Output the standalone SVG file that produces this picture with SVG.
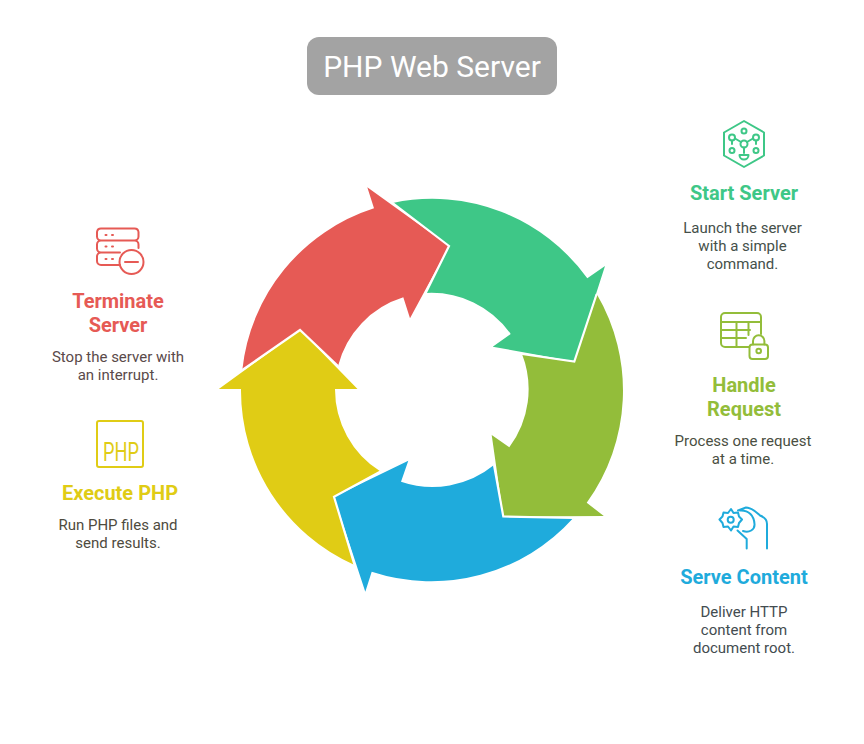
<svg xmlns="http://www.w3.org/2000/svg" width="864" height="744" viewBox="0 0 864 744">
<style>
text{font-family:Roboto,"Liberation Sans",sans-serif;text-anchor:middle}
.t{font-size:20px;font-weight:700}
.b{font-size:15px}
.sep{fill:none;stroke:#fff;stroke-width:2.200;stroke-linejoin:miter}
.i{fill:none;stroke-width:2;stroke-linecap:round;stroke-linejoin:round}
</style>
<rect width="864" height="744" fill="#fff"/>
<g id="title"><rect x="307" y="37" width="250" height="58" rx="12" fill="#a3a3a3"/><text x="432" y="77" font-size="30" fill="#fff">PHP Web Server</text></g>
<g id="connectors">
<path id="arrow-start" fill="#3ec787" d="M392.700 203A191 191 0 0 1 587.300 278.300L605 266L574.300 361.500L492.700 346.700L510.700 334A97 97 0 0 0 425.700 293L449 246Z"/>
<path id="arrow-handle" fill="#93bd3a" d="M596.700 294A191 191 0 0 1 586.700 502.700L603.800 516L503.300 516.500L491.700 435L509.300 447.300A97 97 0 0 0 522 354L574.300 361.500Z"/>
<path id="arrow-serve" fill="#1fabdc" d="M573.300 518A191 191 0 0 1 371.700 571.700L365.300 591.700L334 496.700L408.300 460.700L401 481.700A97 97 0 0 0 494 465L503.300 516.500Z"/>
<path id="arrow-execute" fill="#e0cc15" d="M300 330L357.500 389H335A97 97 0 0 0 380.500 471.500L334 496.700L354.500 565A191 191 0 0 1 241 389H218.800Z"/>
<path id="arrow-terminate" fill="#e65a55" d="M242.300 370A191 191 0 0 1 374 208.300L367.300 187.300L449 246L410 318.300L403.300 297.300A97 97 0 0 0 338 366L300 330Z"/>
<path class="sep" d="M392.700 203L449 246L425.700 293"/>
<path class="sep" d="M596.700 294L574.300 361.500L522 354"/>
<path class="sep" d="M494 465L503.300 516.500L573.300 518"/>
<path class="sep" d="M380.500 471.500L334 496.700L354.500 565"/>
<path class="sep" d="M338 366L300 330L242.300 370"/>
</g>
<g id="start-server">
<g class="i" stroke="#3ec787">
<path d="M744 121L764 132.500V155.500L744 167L724 155.500V132.500Z"/>
<circle cx="744" cy="131" r="2.500"/><circle cx="732" cy="137.500" r="3"/><circle cx="756" cy="137.500" r="3"/><circle cx="744" cy="144" r="3.500"/><circle cx="732" cy="150.500" r="2.500"/><circle cx="756" cy="150.500" r="2.500"/>
<path d="M735 138.500L741 142M753 138.500L747 142M744 147.500V153M739.500 155H748.500A4.500 4.500 0 0 1 739.500 155ZM732 140.500V144M756 140.500V144"/>
</g>
<text class="t" x="744" y="199.500" fill="#3ec787">Start Server</text>
<g fill="#45504a"><text class="b" x="742.500" y="233">Launch the server</text><text class="b" x="742.500" y="251">with a simple</text><text class="b" x="742.500" y="269">command.</text></g>
</g>
<g id="handle-request">
<g class="i" stroke="#93bd3a">
<path d="M749 347H725A4 4 0 0 1 721 343V317A4 4 0 0 1 725 313H757A4 4 0 0 1 761 317V334M721 322H761M721 330H750M721 338H746M736.500 322V347M748.500 322V335"/>
<rect x="749.500" y="344.500" width="18.500" height="14.500" rx="3"/><circle cx="758.700" cy="351" r="2.300"/><path d="M753 344.500V341A5.700 5.700 0 0 1 764.400 341V344.500"/>
</g>
<text class="t" x="744" y="391.500" fill="#93bd3a">Handle</text><text class="t" x="744" y="415.500" fill="#93bd3a">Request</text>
<g fill="#4a4f42"><text class="b" x="743" y="446">Process one request</text><text class="b" x="743" y="464">at a time.</text></g>
</g>
<g id="serve-content">
<g class="i" stroke="#1fabdc">
<path d="M731 509L733.500 513L738 512.500L739 516.500L742 519.500L739 523L738 527L733.500 526.500L731 530.500L728 526.500L723.500 527L722.500 523L719.500 519.500L722.500 516.500L723.500 512.500L728 513Z"/>
<circle cx="730.700" cy="519.700" r="3"/>
<path d="M738 510.500L746 507.500C752 507.500 756 512 760 515.500C764 517 767 520 767 524V548.500M740 510.500C749 510 754 516 754.500 524C755 530 749 533 743 531"/>
<path d="M737.500 530.500L746.700 539V548.500"/>
</g>
<text class="t" x="744" y="583.500" fill="#1fabdc">Serve Content</text>
<g fill="#434c50"><text class="b" x="744" y="617">Deliver HTTP</text><text class="b" x="744" y="635">content from</text><text class="b" x="744" y="653">document root.</text></g>
</g>
<g id="execute-php">
<rect class="i" stroke="#e0cc15" x="97" y="421" width="46" height="46" rx="2"/>
<text x="121" y="461" font-size="25" fill="#e0cc15" textLength="36" lengthAdjust="spacingAndGlyphs">PHP</text>
<text class="t" x="120" y="499.500" fill="#e0cc15">Execute PHP</text>
<g fill="#4e4b3e"><text class="b" x="118" y="530">Run PHP files and</text><text class="b" x="118" y="548">send results.</text></g>
</g>
<g id="terminate-server">
<g class="i" stroke="#e65a55">
<path d="M117 240.500H101A4 4 0 0 1 97 236.500V232A4 4 0 0 1 101 228.500H134.500A4 4 0 0 1 138.500 232V236.500A4 4 0 0 1 134.500 240.500H117ZM101 240.500A4 4 0 0 0 97 244.500V248.500A4 4 0 0 0 101 252.500H120M134.500 240.500A4 4 0 0 1 138.500 244.500V248M101 252.500A4 4 0 0 0 97 256.500V261A4 4 0 0 0 101 265H120"/>
<circle cx="131.500" cy="262" r="12"/><path d="M125 262H138"/>
<path d="M105.500 235H106.500M112 235H113M105.500 246.500H106.500M112 246.500H113M105.500 259H106.500M112 259H113"/>
</g>
<text class="t" x="118" y="307.500" fill="#e65a55">Terminate</text><text class="t" x="118" y="331.500" fill="#e65a55">Server</text>
<g fill="#5a4a4a"><text class="b" x="118" y="362">Stop the server with</text><text class="b" x="118" y="380">an interrupt.</text></g>
</g>
</svg>
